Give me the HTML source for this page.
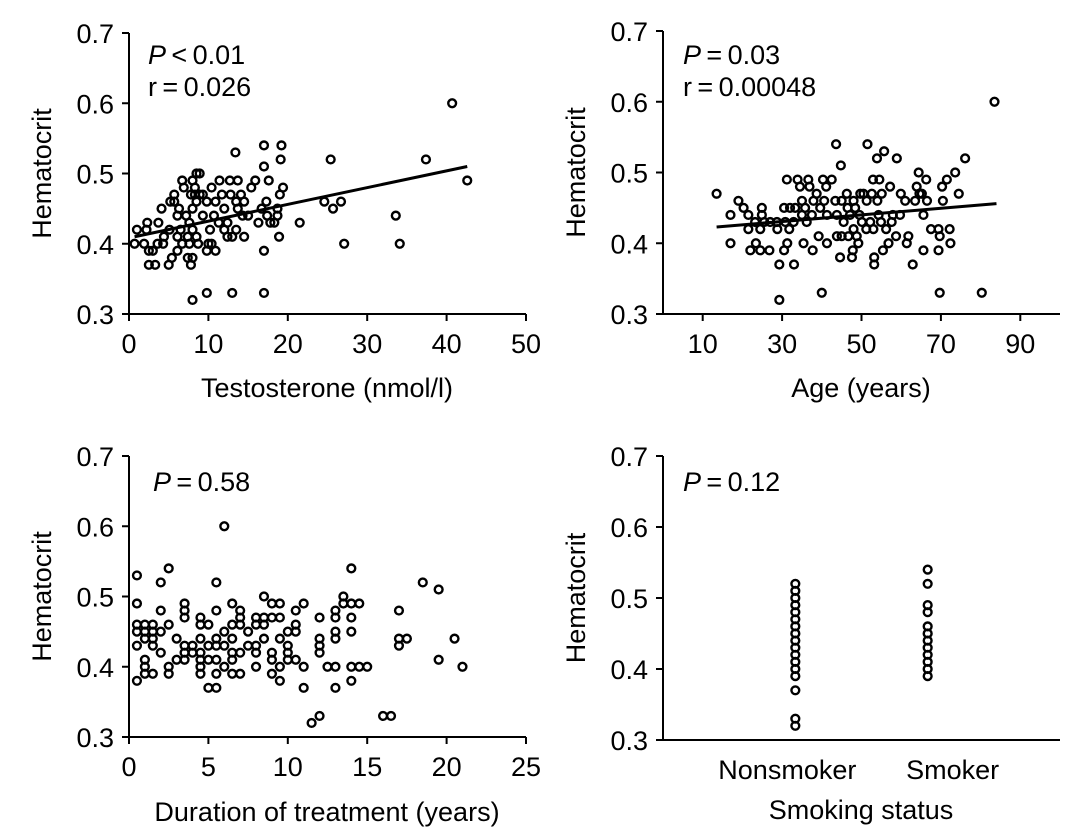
<!DOCTYPE html>
<html><head><meta charset="utf-8"><style>
html,body{margin:0;padding:0;background:#fff}
svg{display:block;font-family:"Liberation Sans",Arial,sans-serif}
</style></head><body>
<svg id="c" width="1081" height="837" viewBox="0 0 1081 837"></svg>
<script>
// Panel A: testosterone
const testoX=[0.7,1,1.9,2.3,2.2,2.5,2.5,3.3,3,3.6,3.7,4.1,4.3,4.4,5,5.1,5.4,5.2,5.7,5.7,6.1,6.1,6.3,6.1,6.5,6.7,6.9,6.7,7.2,7.4,7.4,7.8,8,8,8,8.3,8.5,8.9,7.8,8.3,8.9,9.3,8.5,8,7.6,8,8.5,8.7,7.6,9.3,9.8,10,9.8,10.9,10.4,10.2,10.4,9.8,10.7,10.9,11.3,11.4,11.7,12,12,12.4,12.4,13,12.7,13.7,13.4,13,12.8,13.5,13.5,13.7,14.1,14.3,14.5,14.5,15,15.4,15.9,16.3,16.7,17,17,17,17,17.3,17.6,17.4,17.8,18.3,18.7,18.7,18.9,19,19.1,19.2,19.4,21.5,24.6,25.4,25.7,26.7,27.1,33.6,34.1,37.4,40.7,42.6];
const testoY=[0.40,0.42,0.40,0.43,0.42,0.39,0.37,0.37,0.39,0.40,0.43,0.45,0.40,0.41,0.37,0.42,0.38,0.46,0.47,0.46,0.39,0.41,0.45,0.44,0.42,0.49,0.48,0.40,0.44,0.41,0.38,0.37,0.32,0.38,0.49,0.48,0.50,0.50,0.47,0.47,0.47,0.47,0.46,0.45,0.43,0.42,0.41,0.40,0.40,0.44,0.46,0.40,0.39,0.39,0.40,0.42,0.48,0.33,0.44,0.46,0.43,0.49,0.47,0.45,0.42,0.43,0.41,0.41,0.49,0.49,0.53,0.33,0.47,0.46,0.42,0.45,0.47,0.44,0.41,0.46,0.44,0.48,0.49,0.43,0.45,0.54,0.51,0.39,0.33,0.46,0.49,0.44,0.43,0.43,0.45,0.44,0.41,0.47,0.52,0.54,0.48,0.43,0.46,0.52,0.45,0.46,0.40,0.44,0.40,0.52,0.60,0.49];
const testoFitX=[0.7,42.6];
const testoFitY=[0.41,0.51];
// Panel B: age
const ageX=[13.5,17,17,19,20.3,21.5,21.5,22,23.4,23.2,24.5,24.9,24.9,24.5,25.5,26.8,27,28.7,28.8,29.3,29.3,30.5,30.8,31.2,30.5,31.3,31.8,32,32.9,33,33.3,33.9,34.5,35,35,35.4,35.8,36.2,36.6,36.9,37.5,37.7,37.9,38.7,39.2,39.6,40,40.3,40.6,41.1,41.3,41.3,42.5,43.4,43.6,43.8,43.8,44.6,44.8,45,45,45.5,46.3,46.5,46.7,47.1,47.6,47.8,48,48,48.4,48.8,49.2,49.5,49.7,50.1,50.5,51.2,51.3,51.5,52.2,52.6,53,52.9,53.2,53.2,53.9,54,54.3,54.5,54.9,55.1,55.4,55.7,56.2,56.8,57.2,57.6,57.9,58.7,58.9,59.7,59.9,61,61.4,61.8,62.9,63.5,63.9,64.4,64.6,65.2,65.6,65.6,66.3,66.5,67.5,69.4,69.4,69.7,69.7,70.3,70.5,71.5,72.2,72.4,73.6,74.5,76.1,80.3,83.5];
const ageY=[0.47,0.44,0.40,0.46,0.45,0.44,0.42,0.39,0.40,0.43,0.39,0.45,0.44,0.42,0.43,0.39,0.43,0.43,0.42,0.37,0.32,0.39,0.43,0.49,0.45,0.40,0.42,0.45,0.43,0.37,0.45,0.49,0.48,0.46,0.44,0.40,0.45,0.43,0.49,0.48,0.44,0.39,0.46,0.47,0.41,0.45,0.33,0.49,0.46,0.48,0.40,0.44,0.49,0.46,0.54,0.44,0.41,0.38,0.51,0.46,0.41,0.43,0.47,0.45,0.41,0.44,0.38,0.39,0.46,0.42,0.45,0.41,0.40,0.44,0.47,0.43,0.47,0.42,0.46,0.54,0.43,0.47,0.42,0.49,0.38,0.37,0.52,0.46,0.44,0.49,0.43,0.47,0.39,0.53,0.42,0.40,0.48,0.43,0.44,0.41,0.52,0.44,0.47,0.46,0.40,0.41,0.37,0.46,0.48,0.50,0.47,0.47,0.44,0.39,0.49,0.46,0.42,0.42,0.39,0.33,0.41,0.48,0.46,0.49,0.42,0.40,0.50,0.47,0.52,0.33,0.60];
const ageFitX=[13.5,84];
const ageFitY=[0.423,0.456];
// Panel C: duration
const durX=[0.5,0.5,0.5,0.5,0.5,0.5,1,1,1,1,1,1,1.5,1.5,1.5,1.5,1.5,2,2,2,2,2.5,2.5,2.5,2.5,3,3,3.5,3.5,3.5,3.5,3.5,3.5,4,4,4.5,4.5,4.5,4.5,4.5,4.5,4.5,5,5,5,5,5.5,5.5,5.5,5.5,5.5,5.5,5.5,6,6,6,6,6.5,6.5,6.5,6.5,6.5,6.5,7,7,7,7,7,7.5,7.5,8,8,8,8,8,8.5,8.5,8.5,8.5,9,9,9,9,9,9.5,9.5,9.5,9.5,9.5,10,10,10,10,10.5,10.5,10.5,10.5,11,11,11,11.5,12,12,12,12,12,12.5,13,13,13,13,13,13,13.5,13.5,14,14,14,14,14,14,14.5,14.5,15,16,16.5,17,17,17,17.5,18.5,19.5,19.5,20.5,21];
const durY=[0.53,0.49,0.46,0.45,0.43,0.38,0.46,0.45,0.44,0.41,0.40,0.39,0.46,0.45,0.44,0.43,0.39,0.52,0.48,0.45,0.42,0.54,0.46,0.40,0.39,0.44,0.41,0.49,0.48,0.47,0.43,0.42,0.41,0.43,0.42,0.47,0.46,0.44,0.42,0.41,0.40,0.39,0.46,0.43,0.41,0.37,0.52,0.48,0.44,0.43,0.41,0.39,0.37,0.60,0.45,0.43,0.40,0.49,0.46,0.44,0.42,0.41,0.39,0.48,0.47,0.46,0.42,0.39,0.45,0.43,0.47,0.46,0.43,0.42,0.40,0.50,0.47,0.46,0.44,0.49,0.47,0.42,0.41,0.39,0.49,0.47,0.44,0.40,0.38,0.45,0.43,0.42,0.41,0.48,0.46,0.45,0.41,0.49,0.40,0.37,0.32,0.47,0.44,0.43,0.42,0.33,0.40,0.48,0.47,0.45,0.44,0.40,0.37,0.50,0.49,0.54,0.49,0.47,0.45,0.40,0.38,0.49,0.40,0.40,0.33,0.33,0.48,0.44,0.43,0.44,0.52,0.51,0.41,0.44,0.40];
// Panel D: smoking
const smokeCats=["Nonsmoker","Smoker"];
const nonsmokerY=[0.32,0.33,0.37,0.39,0.40,0.41,0.42,0.43,0.44,0.45,0.46,0.47,0.48,0.49,0.50,0.51,0.52];
const smokerY=[0.39,0.40,0.41,0.42,0.43,0.44,0.45,0.46,0.48,0.49,0.52,0.54];
const yTicks=[0.3,0.4,0.5,0.6,0.7];
const testoTicks=[0,10,20,30,40,50];
const ageTicks=[10,30,50,70,90];
const durTicks=[0,5,10,15,20,25];

const svg=document.getElementById('c');
const NS='http://www.w3.org/2000/svg';
const FS=27;
function mk(tag,attrs,parent){const e=document.createElementNS(NS,tag);for(const k in attrs)e.setAttribute(k,attrs[k]);(parent||svg).appendChild(e);return e;}

function panel(name,L,R,T,B,xmin,xmax){
  const g=mk('g',{});
  
  
  const sx=v=>L+(v-xmin)/(xmax-xmin)*(R-L);
  const sy=v=>B-(v-0.3)/0.4*(B-T);
  const ya=mk('line',{x1:L,y1:T,x2:L,y2:B,stroke:'#000','stroke-width':2},g);
  
  
  const xa=mk('line',{x1:L,y1:B,x2:R,y2:B,stroke:'#000','stroke-width':2},g);
  
  
  yTicks.forEach(v=>{
    mk('line',{x1:L-7,y1:sy(v),x2:L,y2:sy(v),stroke:'#000','stroke-width':2},g);
    const t=mk('text',{x:L-15,y:sy(v)+10,'text-anchor':'end','font-size':FS},g);
    t.textContent=v.toFixed(1);
    
    
  });
  const yt=mk('text',{x:0,y:0,'text-anchor':'middle','font-size':FS,transform:`translate(${L-78},${(T+B)/2}) rotate(-90)`},g);
  yt.textContent='Hematocrit';
  
  
  return {g,sx,sy};
}
function xticks(p,ticks,B){
  ticks.forEach((v,i)=>{
    mk('line',{x1:p.sx(v),y1:B,x2:p.sx(v),y2:B+7,stroke:'#000','stroke-width':2},p.g);
    const t=mk('text',{x:p.sx(v),y:B+39,'text-anchor':'middle','font-size':FS},p.g);
    t.textContent=String(v);
    
    
  });
}
function xtitle(p,x,y,s){
  const t=mk('text',{x:x,y:y,'text-anchor':'middle','font-size':FS},p.g);
  t.textContent=s;
  
  
}
function pts(p,xs,ys){
  xs.forEach((x,i)=>{
    const c=mk('circle',{cx:p.sx(x),cy:p.sy(ys[i]),r:3.9,fill:'none',stroke:'#000','stroke-width':2.4},p.g);
    
    
  });
}
function fit(p,fx,fy){
  const l=mk('line',{x1:p.sx(fx[0]),y1:p.sy(fy[0]),x2:p.sx(fx[1]),y2:p.sy(fy[1]),stroke:'#000','stroke-width':3},p.g);
  
  
}
function stat(p,x,y,html){
  const t=mk('text',{x:x,y:y,'font-size':FS},p.g);
  t.innerHTML=html;
  
  
}
const TS='\u2009';
// A
const A=panel('testosterone-panel',129,526,33,314,0,50);
xticks(A,testoTicks,314);
xtitle(A,327,397,'Testosterone (nmol/l)');
pts(A,testoX,testoY);fit(A,testoFitX,testoFitY);
stat(A,148,64,'<tspan font-style="italic">P</tspan>'+TS+'&lt;'+TS+'0.01');
stat(A,148,96,'r'+TS+'='+TS+'0.026');
// B
const Bp=panel('age-panel',663,1060,31,314,0,100);
xticks(Bp,ageTicks,314);
xtitle(Bp,861,397,'Age (years)');
pts(Bp,ageX,ageY);fit(Bp,ageFitX,ageFitY);
stat(Bp,683,64,'<tspan font-style="italic">P</tspan>'+TS+'='+TS+'0.03');
stat(Bp,683,96,'r'+TS+'='+TS+'0.00048');
// C
const C=panel('duration-panel',129,526,456,737,0,25);
xticks(C,durTicks,737);
xtitle(C,327,821,'Duration of treatment (years)');
pts(C,durX,durY);
stat(C,153,491,'<tspan font-style="italic">P</tspan>'+TS+'='+TS+'0.58');
// D
const D=panel('smoking-panel',663,1060,456,740,0,3);
const catLabelDx=[-8,25];
smokeCats.forEach((c,i)=>{
  const t=mk('text',{x:D.sx(i+1)+catLabelDx[i],y:779,'text-anchor':'middle','font-size':FS},D.g);
  t.textContent=c;
  
  
});
xtitle(D,861,819,'Smoking status');
pts(D,nonsmokerY.map(()=>1),nonsmokerY);
pts(D,smokerY.map(()=>2),smokerY);
stat(D,683,491,'<tspan font-style="italic">P</tspan>'+TS+'='+TS+'0.12');
</script>
</body></html>
